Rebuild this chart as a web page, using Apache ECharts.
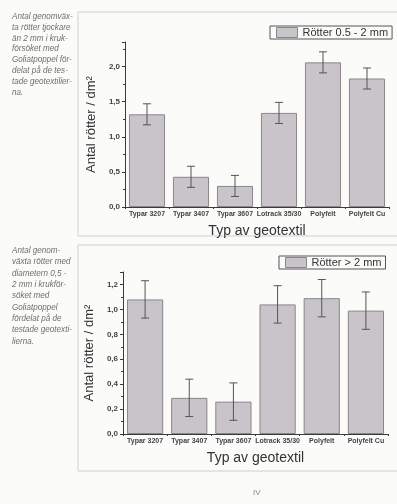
<!DOCTYPE html>
<html>
<head>
<meta charset="utf-8">
<script src="https://cdn.jsdelivr.net/npm/echarts@6/dist/echarts.min.js"></script>
<style>
  html, body { margin: 0; padding: 0; background: #fbfbfa; }
  #chart { width: 397px; height: 504px; }
</style>
</head>
<body>
<div id="chart"></div>
<script>
// categories shared by both panels
var categories = ['Typar 3207', 'Typar 3407', 'Typar 3607', 'Lotrack 35/30', 'Polyfelt', 'Polyfelt Cu'];

// upper panel: roots 0.5 - 2 mm
var thinName = 'Rötter 0.5 - 2 mm';
var thinValues = [1.32, 0.43, 0.30, 1.34, 2.06, 1.83];
var thinErrors = [0.15, 0.15, 0.15, 0.15, 0.15, 0.15];

// lower panel: roots > 2 mm
var thickName = 'Rötter > 2 mm';
var thickValues = [1.08, 0.29, 0.26, 1.04, 1.09, 0.99];
var thickErrors = [0.15, 0.15, 0.15, 0.15, 0.15, 0.15];

var yName = 'Antal rötter / dm²';
var xName = 'Typ av geotextil';

var captionTop = 'Antal genomväx-\nta rötter tjockare\nän 2 mm i kruk-\nförsöket med\nGoliatpoppel för-\ndelat på de tes-\ntade geotextilier-\nna.';
var captionBottom = 'Antal genom-\nväxta rötter med\ndiametern 0,5 -\n2 mm i krukför-\nsöket med\nGoliatpoppel\nfördelat på de\ntestade geotexti-\nlierna.';

var barFill = '#c9c4c9';
var barEdge = '#8a868a';
var axisColor = '#3a3a3a';
var font = 'Liberation Sans';

function errData(values, errors) {
	var out = [];
	for (var i = 0; i < values.length; i++) {
		out.push([i, values[i] - errors[i], values[i] + errors[i]]);
	}
	return out;
}

function renderErr(params, api) {
	var lo = api.coord([api.value(0), api.value(1)]);
	var hi = api.coord([api.value(0), api.value(2)]);
	var w = 4;
	var st = { stroke: '#555', lineWidth: 1 };
	return {
		type: 'group',
		children: [
			{ type: 'line', shape: { x1: hi[0], y1: hi[1], x2: lo[0], y2: lo[1] }, style: st },
			{ type: 'line', shape: { x1: hi[0] - w, y1: hi[1], x2: hi[0] + w, y2: hi[1] }, style: st },
			{ type: 'line', shape: { x1: lo[0] - w, y1: lo[1], x2: lo[0] + w, y2: lo[1] }, style: st }
		]
	};
}

function xAxisFor(gridIndex) {
	return {
		type: 'category',
		gridIndex: gridIndex,
		data: categories,
		name: xName,
		nameLocation: 'middle',
		nameGap: 17,
		nameTextStyle: { fontFamily: font, fontSize: 14, color: '#333' },
		axisLine: { lineStyle: { color: axisColor } },
		axisTick: { show: true, length: 2, lineStyle: { color: axisColor } },
		axisLabel: { fontFamily: font, fontSize: 7, fontWeight: 'bold', color: '#444', margin: 4, interval: 0 }
	};
}

function yAxisFor(gridIndex, max, interval, gap) {
	return {
		type: 'value',
		gridIndex: gridIndex,
		min: 0,
		max: max,
		interval: interval,
		name: yName,
		nameLocation: 'middle',
		nameGap: gap,
		nameTextStyle: { fontFamily: font, fontSize: 13, color: '#333' },
		axisLine: { show: true, lineStyle: { color: axisColor } },
		axisTick: { show: true, length: 3, lineStyle: { color: axisColor } },
		minorTick: { show: true, splitNumber: 2, length: 2, lineStyle: { color: axisColor } },
		splitLine: { show: false },
		axisLabel: {
			fontFamily: font, fontSize: 8, fontWeight: 'bold', color: '#444', margin: 5,
			showMaxLabel: false,
			formatter: function (v) { return v.toFixed(1).replace('.', ','); }
		}
	};
}

function legendFor(name, left, top) {
	return {
		data: [name],
		left: left,
		top: top,
		orient: 'horizontal',
		icon: 'rect',
		itemWidth: 21,
		itemHeight: 10,
		itemGap: 4,
		borderColor: '#555',
		borderWidth: 1,
		padding: [1, 4, 1, 6],
		textStyle: { fontFamily: font, fontSize: 11, color: '#333' },
		itemStyle: { borderColor: barEdge, borderWidth: 1 }
	};
}

var captionFont = 'italic 9px "Liberation Sans"';

var chart = echarts.init(document.getElementById('chart'));
chart.setOption({
	backgroundColor: '#fbfbfa',
	animation: false,
	legend: [legendFor(thinName, 270, 26), legendFor(thickName, 279, 256)],
	grid: [
		{ left: 125, right: 8, top: 42, bottom: 297 },
		{ left: 123, right: 9, top: 272, bottom: 70 }
	],
	xAxis: [xAxisFor(0), xAxisFor(1)],
	yAxis: [yAxisFor(0, 2.35, 0.5, 24), yAxisFor(1, 1.3, 0.2, 24)],
	graphic: [
		{ type: 'rect', shape: { x: 78, y: 12, width: 330, height: 224 }, style: { fill: 'none', stroke: '#cfcfcf', lineWidth: 1 }, z: -1 },
		{ type: 'rect', shape: { x: 78, y: 245, width: 330, height: 226 }, style: { fill: 'none', stroke: '#cfcfcf', lineWidth: 1 }, z: -1 },
		{ type: 'text', x: 12, y: 11, scaleX: 0.9, style: { text: captionTop, font: captionFont, fill: '#6e6e6e', lineHeight: 10.8 } },
		{ type: 'text', x: 12, y: 245, scaleX: 0.9, style: { text: captionBottom, font: captionFont, fill: '#6e6e6e', lineHeight: 11.3 } },
		{ type: 'text', left: 253, top: 489, style: { text: 'IV', font: '8px "Liberation Sans"', fill: '#888' } }
	],
	series: [
		{
			name: thinName, type: 'bar', xAxisIndex: 0, yAxisIndex: 0,
			data: thinValues, barCategoryGap: '18%',
			itemStyle: { color: barFill, borderColor: barEdge, borderWidth: 1 }
		},
		{
			type: 'custom', xAxisIndex: 0, yAxisIndex: 0,
			data: errData(thinValues, thinErrors), renderItem: renderErr, z: 5
		},
		{
			name: thickName, type: 'bar', xAxisIndex: 1, yAxisIndex: 1,
			data: thickValues, barCategoryGap: '18%',
			itemStyle: { color: barFill, borderColor: barEdge, borderWidth: 1 }
		},
		{
			type: 'custom', xAxisIndex: 1, yAxisIndex: 1,
			data: errData(thickValues, thickErrors), renderItem: renderErr, z: 5
		}
	]
});
</script>
</body>
</html>
